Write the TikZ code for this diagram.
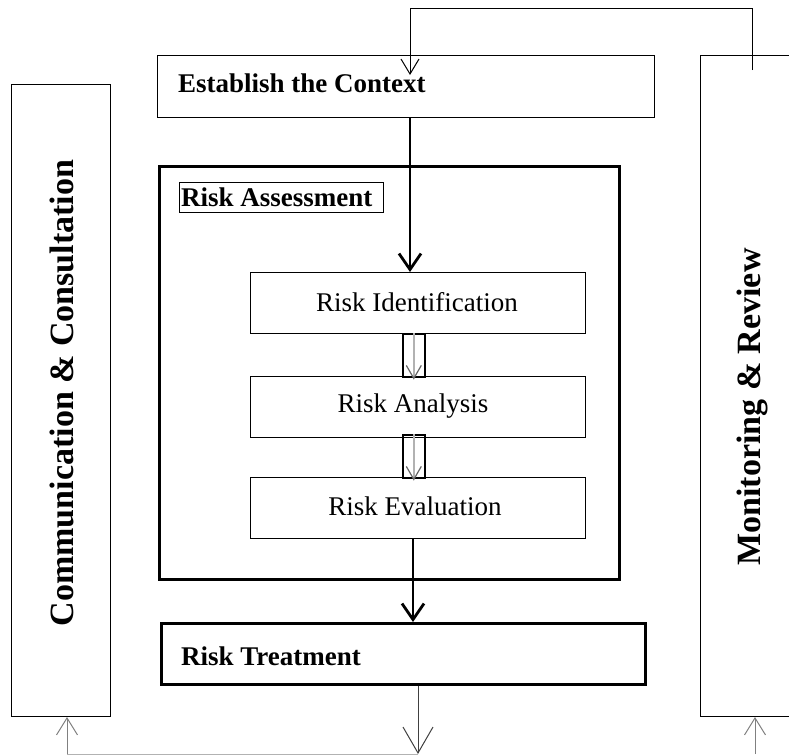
\documentclass[tikz,border=0pt]{standalone}
\usepackage{fontspec}
\setmainfont{Liberation Serif}
\usetikzlibrary{arrows.meta,calc}
\begin{document}
\begin{tikzpicture}[x=1pt,y=-1pt,
  box/.style={draw, inner sep=0pt, anchor=north west},
  thinbox/.style={box, line width=1pt},
  thickbox/.style={box, line width=3pt},
  bigtxt/.style={font=\bfseries\fontsize{27}{30}\selectfont, inner sep=0pt},
  regtxt/.style={font=\fontsize{27}{30}\selectfont, inner sep=0pt},
  sidetxt/.style={font=\bfseries\fontsize{34}{36}\selectfont, inner sep=0pt, rotate=90},
  thickarrow/.style={line width=2.8pt, -{Straight Barb[length=16pt,width=22pt,line width=2.8pt]}},
  thinarrow/.style={line width=1pt, -{Straight Barb[length=15pt,width=18pt]}},
  smallarrow/.style={line width=1.5pt, gray!60, -{Straight Barb[length=13pt,width=15pt,line width=1.2pt,color=gray!80!black]}},
  grayarrow/.style={line width=1pt, gray, -{Straight Barb[length=17pt,width=21pt]}},
  greyline/.style={line width=1pt, gray!60},
  ]
\useasboundingbox (0,0) rectangle (789,755);
\begin{scope}
\clip (0,0) rectangle (789,755);
% side boxes
\node[thinbox, minimum width=99, minimum height=632] (comm) at (11,84) {};
\node[thinbox, minimum width=120, minimum height=661] (mon) at (700,55) {};
\node[sidetxt] (commt) at (62,393) {Communication \& Consultation};
\node[sidetxt] (mont) at (752,407) {Monitoring \& Review};
% establish the context
\node[thinbox, minimum width=497, minimum height=62] (ctx) at (157,55) {};
\node[bigtxt, anchor=west] (ctxt) at ([xshift=21pt,yshift=3pt]ctx.west) {Establish the Context};
% risk assessment
\node[thickbox, minimum width=460, minimum height=413] (ra) at (158,165) {};
\node[box, line width=1.3pt, minimum width=204, minimum height=30] (ralab) at (179,182) {};
\node[bigtxt, anchor=west] (ralabt) at ([xshift=2pt]ralab.west) {Risk Assessment};
\node[thinbox, minimum width=335, minimum height=61] (ident) at (250,272) {};
\node[regtxt] (identt) at (417,302) {Risk Identification};
\node[thinbox, minimum width=335, minimum height=61] (anal) at (250,376) {};
\node[regtxt] (analt) at (413,406) {Risk Analysis};
\node[thinbox, minimum width=335, minimum height=61] (eval) at (250,477) {};
\node[regtxt] (evalt) at (415,506) {Risk Evaluation};
\node[box, line width=1.6pt, minimum width=22, minimum height=43] (c1) at (402,333) {};
\node[box, line width=1.6pt, minimum width=22, minimum height=43] (c2) at (402,434) {};
\draw[smallarrow] (c1.north) -- ([yshift=-2pt]c1.south);
\draw[smallarrow] (c2.north) -- ([yshift=-2pt]c2.south);
% risk treatment
\node[thickbox, minimum width=484, minimum height=61] (treat) at (160,622) {};
\node[bigtxt, anchor=west] (treatt) at ([xshift=21pt,yshift=-2pt]treat.west) {Risk Treatment};
% main arrows
\coordinate (xa) at (410,0);
\coordinate (xb) at (413,0);
\draw[thickarrow] (ctx.south -| xa) -- (ident.north -| xa);
\draw[thickarrow] (eval.south -| xb) -- (treat.north -| xb);
% feedback on top
\coordinate (fr) at (752,8);
\coordinate (fl) at (410,8);
\coordinate (ftip) at (410,75);
\draw[thinarrow] ($(mon.north -| fr)+(0,15)$) -- (fr) -- (fl) -- (ftip);
% bottom
\coordinate (bd) at (418,754);
\coordinate (bl) at (67,754);
\coordinate (br) at (755,754);
\draw[line width=1pt, gray!50!black, -{Straight Barb[length=26pt,width=30pt]}] (treat.south -| bd) -- (bd);
\draw[greyline] (bl) -- (bd);
\draw[grayarrow] (bl) -- (comm.south -| bl);
\draw[grayarrow] (br) -- (mon.south -| br);
\end{scope}
\end{tikzpicture}
\end{document}
